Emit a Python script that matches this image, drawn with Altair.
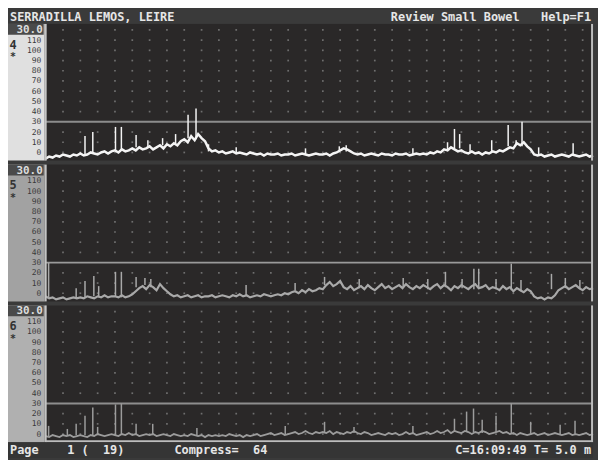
import altair as alt
import pandas as pd

# ---------------- data ----------------
t_samples = list(range(0, 317, 2))  # sample times (159 samples)

ch4_values = [-6, -4, -5, -3, -4, -2, -3, -4, -2, -3,
              -1, -3, -2, 0, -1, -2, 0, 1, -1, 1,
              2, 0, 3, 1, 2, 4, 2, 5, 3, 4,
              6, 3, 5, 7, 4, 8, 6, 9, 7, 11,
              13, 10, 16, 12, 18, 14, 11, 4, 1, 2,
              0, 1, -1, 0, 1, -1, 0, -1, -2, 0,
              -1, -2, -1, -3, -1, -2, -2, -1, -3, -2,
              -2, -1, -3, -2, -1, -2, -3, -2, -1, -2,
              -2, -1, -3, -1, 0, 2, 4, 3, 1, -1,
              -2, -1, -3, -2, -1, -2, -3, -1, -2, -2,
              -3, -1, -2, -2, -1, -3, -2, -1, -2, -1,
              -2, 0, -1, 1, 0, 3, 2, 5, 3, 1,
              2, 0, -1, 1, -1, 0, -2, 0, -1, 1,
              0, 2, 1, 3, 5, 4, 9, 7, 10, 6,
              3, -2, -3, -2, -4, -3, -2, -4, -3, -2,
              -3, -4, -2, -3, -4, -3, -2, -4, -3]

ch5_values = [-3, -5, -4, -6, -5, -4, -6, -5, -4, -5,
              -4, -5, -3, -4, -5, -3, -4, -2, -4, -3,
              -3, -4, -2, -4, -3, -1, 2, 5, 7, 4,
              8, 6, 3, 9, 5, 2, -1, -3, -2, -4,
              -3, -2, -4, -3, -2, -4, -3, -3, -2, -4,
              -3, -2, -3, -4, -2, -3, -1, -3, -2, -4,
              -3, -2, -3, -1, -2, -3, -2, -1, -2, 0,
              -1, 1, 2, 0, 3, 1, 4, 2, 3, 5,
              4, 8, 11, 7, 9, 12, 6, 4, 7, 3,
              5, 7, 4, 8, 5, 3, 6, 9, 5, 7,
              4, 6, 8, 5, 9, 6, 4, 7, 5, 8,
              6, 4, 7, 9, 5, 8, 6, 3, 7, 5,
              8, 6, 4, 7, 9, 5, 6, 8, 4, 6,
              5, 3, 7, 4, 6, 2, 5, 3, 1, 4,
              2, -3, -5, -4, -6, -4, -5, -2, 3, 5,
              7, 4, 6, 8, 5, 3, 6, 4, 5]

ch6_values = [-2, -3, -1, -2, -3, -1, -2, -1, -3, -2,
              -1, -2, -3, -1, -2, 0, -1, -2, -1, 0,
              -1, -2, 0, -1, 1, -1, 0, -2, -1, 0,
              -1, 0, -2, -1, 0, -1, -2, 0, -1, -2,
              -1, -2, 0, -1, -2, -1, -3, -1, -2, -1,
              -2, -1, -2, 0, -1, -2, -1, -3, -1, -2,
              -1, 0, -2, -1, 0, 1, -1, 0, 1, -1,
              0, 1, 2, 0, 1, 3, 1, 0, 2, 1,
              2, 1, 3, 0, 2, 1, 0, 2, 1, 3,
              1, 0, 2, 1, -1, 0, 1, 0, -1, 1,
              0, 1, -1, 0, 2, 0, 1, -1, 0, 1,
              2, 0, 1, 3, 1, 2, 4, 1, 3, 2,
              1, 3, 2, 0, 2, 1, 3, 2, 0, 1,
              2, 3, 1, 2, 0, 1, -1, 1, 0, -1,
              0, 1, -1, 0, 1, -1, 0, 1, 0, -1,
              0, 1, -1, 0, -1, 0, 1, -1, 0]

ch4_spike_t = [22.7, 27.2, 40.3, 43.7, 52.2, 59, 67.5, 75, 82.2, 86.8, 94, 110, 150,
               169.5, 173.5, 212, 232, 236, 239, 245, 257.5, 267, 271.6, 275, 284.6, 304.5]
ch4_spike_base = [-1.5, -1, 2, 2, 5, 5, 7, 9, 14, 13, 1, 0, -2,
                  1, 1, -2, 2, 4, 4, 0, 0, 6, 8, 6, -3, -3]
ch4_spike_top = [16, 20, 25, 25, 17, 12, 14, 18, 37, 43, 8, 5, 4,
                 6, 7, 4, 10, 23, 18, 8, 12, 27, 12, 30, 5, 9]

ch5_spike_t = [1.7, 17.6, 22.7, 27.8, 30.6, 40.3, 43.7, 52.2, 57.3, 60.7, 115.7, 144, 161,
               181, 206.4, 220.6, 230.8, 240.4, 247.2, 250, 260, 268.8, 274.4, 292, 300, 308.4]
ch5_spike_base = [-4, -5, -4, -3, -4, -3, -4, 6, 8, 6, -3, 3, 8,
                  5, 6, 4, 6, 5, 4, 6, 4, 3, 2, 4, 5, 4]
ch5_spike_top = [30, 5, 12, 17, 7, 21, 21, 16, 15, 14, 8, 10, 16,
                 14, 15, 14, 21, 14, 24, 24, 14, 29, 13, 19, 15, 13]

ch6_spike_t = [1.7, 12.5, 17.6, 22.7, 27.2, 30, 40.3, 43.7, 52.2, 61.8, 87.3, 138.3,
               161, 178, 212, 236, 243, 247, 252, 260, 268.8, 280, 297, 305.6]
ch6_spike_base = [-2, -1, -1, -1, -2, -1, -1, 0, -1, -1, -1, 0,
                  1, 1, 0, 2, 3, 2, 1, 2, 1, 0, 0, 0]
ch6_spike_top = [8, 5, 10, 18, 26, 7, 29, 30, 10, 10, 6, 8,
                 12, 7, 8, 15, 22, 25, 14, 18, 30, 12, 9, 13]

axis_values = [0, 10, 20, 30, 40, 50, 60, 70, 80, 90, 100, 110]
grid_t = list(range(10, 320, 10))
grid_v = list(range(0, 130, 10))
threshold = [30]

NB = "\u00a0"
title_left = "SERRADILLA LEMOS, LEIRE"
title_right = "Review Small Bowel" + NB * 3 + "Help=F1"
footer_left = "Page" + NB * 4 + "1" + NB + "(" + NB * 2 + "19)" + NB * 7 + "Compress=" + NB * 2 + "64"
footer_right = "C=16:09:49" + NB + "T=" + NB + "5.0" + NB + "m"

# ---------------- layout ----------------
W, H = 552, 138
LEFT = -38
MONO = "DejaVu Sans Mono"

xs = alt.Scale(domain=[0, 316], nice=False, zero=False)
ys = alt.Scale(domain=[-8, 126], nice=False, zero=False)
yaxis = alt.Axis(values=axis_values, domain=False, ticks=False, grid=False,
                 labelFont=MONO, labelFontSize=8, labelColor="#3a3a3a",
                 labelPadding=5, title=None, zindex=2)

one = pd.DataFrame({"k": [0]})
grid_df = pd.DataFrame([(t, v) for t in grid_t for v in grid_v if v != 30],
                       columns=["t", "v"])


def panel(num, values, sp_t, sp_b, sp_top, trace_color, trace_w, side_color,
          line_color, first=False, last=False):
    trace = pd.DataFrame({"t": t_samples, "v": values})
    spikes = pd.DataFrame({"t": sp_t, "b": sp_b, "top": sp_top})
    X = alt.X("t:Q", scale=xs, axis=None)

    layers = []
    layers.append(alt.Chart(one).mark_rect(color=side_color).encode(
        x=alt.value(LEFT), x2=alt.value(-1), y=alt.value(0), y2=alt.value(H)))
    layers.append(alt.Chart(grid_df).mark_square(size=3, color="#6e6e6e", opacity=1).encode(
        x=X, y=alt.Y("v:Q", scale=ys, axis=yaxis)))
    layers.append(alt.Chart(pd.DataFrame({"v": threshold})).mark_rule(
        color=line_color, strokeWidth=2).encode(y=alt.Y("v:Q", scale=ys, axis=yaxis)))
    layers.append(alt.Chart(spikes).mark_rule(color=trace_color, strokeWidth=1.5).encode(
        x=X, y=alt.Y("b:Q", scale=ys, axis=yaxis), y2="top:Q"))
    layers.append(alt.Chart(trace).mark_line(color=trace_color, strokeWidth=trace_w).encode(
        x=X, y=alt.Y("v:Q", scale=ys, axis=yaxis)))
    # borders
    layers.append(alt.Chart(one).mark_rule(color="#c4c4c4", strokeWidth=2).encode(
        x=alt.value(0), y=alt.value(0), y2=alt.value(H)))
    layers.append(alt.Chart(one).mark_rule(color="#bdbdbd", strokeWidth=2).encode(
        x=alt.value(W - 1), y=alt.value(0), y2=alt.value(H)))
    # 30.0 box
    layers.append(alt.Chart(one).mark_rect(color="#4a4a4a").encode(
        x=alt.value(LEFT), x2=alt.value(-2), y=alt.value(0), y2=alt.value(11)))
    layers.append(alt.Chart(one).mark_text(
        font=MONO, fontSize=11, fontWeight="bold", color="#dcdcdc",
        align="right", baseline="middle").encode(
        x=alt.value(-3), y=alt.value(6), text=alt.value("30.0")))
    # channel number and marker
    layers.append(alt.Chart(one).mark_text(
        font=MONO, fontSize=12, fontWeight="bold", color="#333333",
        align="center", baseline="middle").encode(
        x=alt.value(-33), y=alt.value(21), text=alt.value(str(num))))
    layers.append(alt.Chart(one).mark_text(
        font=MONO, fontSize=10, fontWeight="bold", color="#333333",
        align="center", baseline="middle").encode(
        x=alt.value(-33), y=alt.value(34), text=alt.value("*")))
    if first:
        layers.append(alt.Chart(one).mark_rect(color="#3a3a3a").encode(
            x=alt.value(LEFT), x2=alt.value(W), y=alt.value(-14), y2=alt.value(0)))
        layers.append(alt.Chart(one).mark_text(
            font=MONO, fontSize=12, fontWeight="bold", color="#e6e6e6",
            align="left", baseline="middle").encode(
            x=alt.value(LEFT + 2), y=alt.value(-7), text=alt.value(title_left)))
        layers.append(alt.Chart(one).mark_text(
            font=MONO, fontSize=12, fontWeight="bold", color="#e6e6e6",
            align="right", baseline="middle").encode(
            x=alt.value(W - 2), y=alt.value(-7), text=alt.value(title_right)))
    if last:
        layers.append(alt.Chart(one).mark_rule(color="#bdbdbd", strokeWidth=2).encode(
            x=alt.value(0), x2=alt.value(W), y=alt.value(H - 1)))
        layers.append(alt.Chart(one).mark_rect(color="#353535").encode(
            x=alt.value(LEFT), x2=alt.value(W), y=alt.value(H), y2=alt.value(H + 16)))
        layers.append(alt.Chart(one).mark_text(
            font=MONO, fontSize=12, fontWeight="bold", color="#e6e6e6",
            align="left", baseline="middle").encode(
            x=alt.value(LEFT + 2), y=alt.value(H + 8), text=alt.value(footer_left)))
        layers.append(alt.Chart(one).mark_text(
            font=MONO, fontSize=12, fontWeight="bold", color="#e6e6e6",
            align="right", baseline="middle").encode(
            x=alt.value(W - 2), y=alt.value(H + 8), text=alt.value(footer_right)))
    return alt.layer(*layers).properties(width=W, height=H)


p4 = panel(4, ch4_values, ch4_spike_t, ch4_spike_base, ch4_spike_top,
           "#f4f4f4", 2.5, "#e0e0e0", "#8c8c8c", first=True)
p5 = panel(5, ch5_values, ch5_spike_t, ch5_spike_base, ch5_spike_top,
           "#a9a9a9", 2.2, "#a2a2a2", "#9a9a9a")
p6 = panel(6, ch6_values, ch6_spike_t, ch6_spike_base, ch6_spike_top,
           "#9c9c9c", 1.8, "#b0b0b0", "#8e8e8e", last=True)

chart = alt.vconcat(p4, p5, p6, spacing=0).properties(
    padding=0, background="#3a3a3a"
).configure_view(stroke=None, fill="#2a2828")

chart.save("out.html", embed_options={"renderer": "svg", "actions": False})
